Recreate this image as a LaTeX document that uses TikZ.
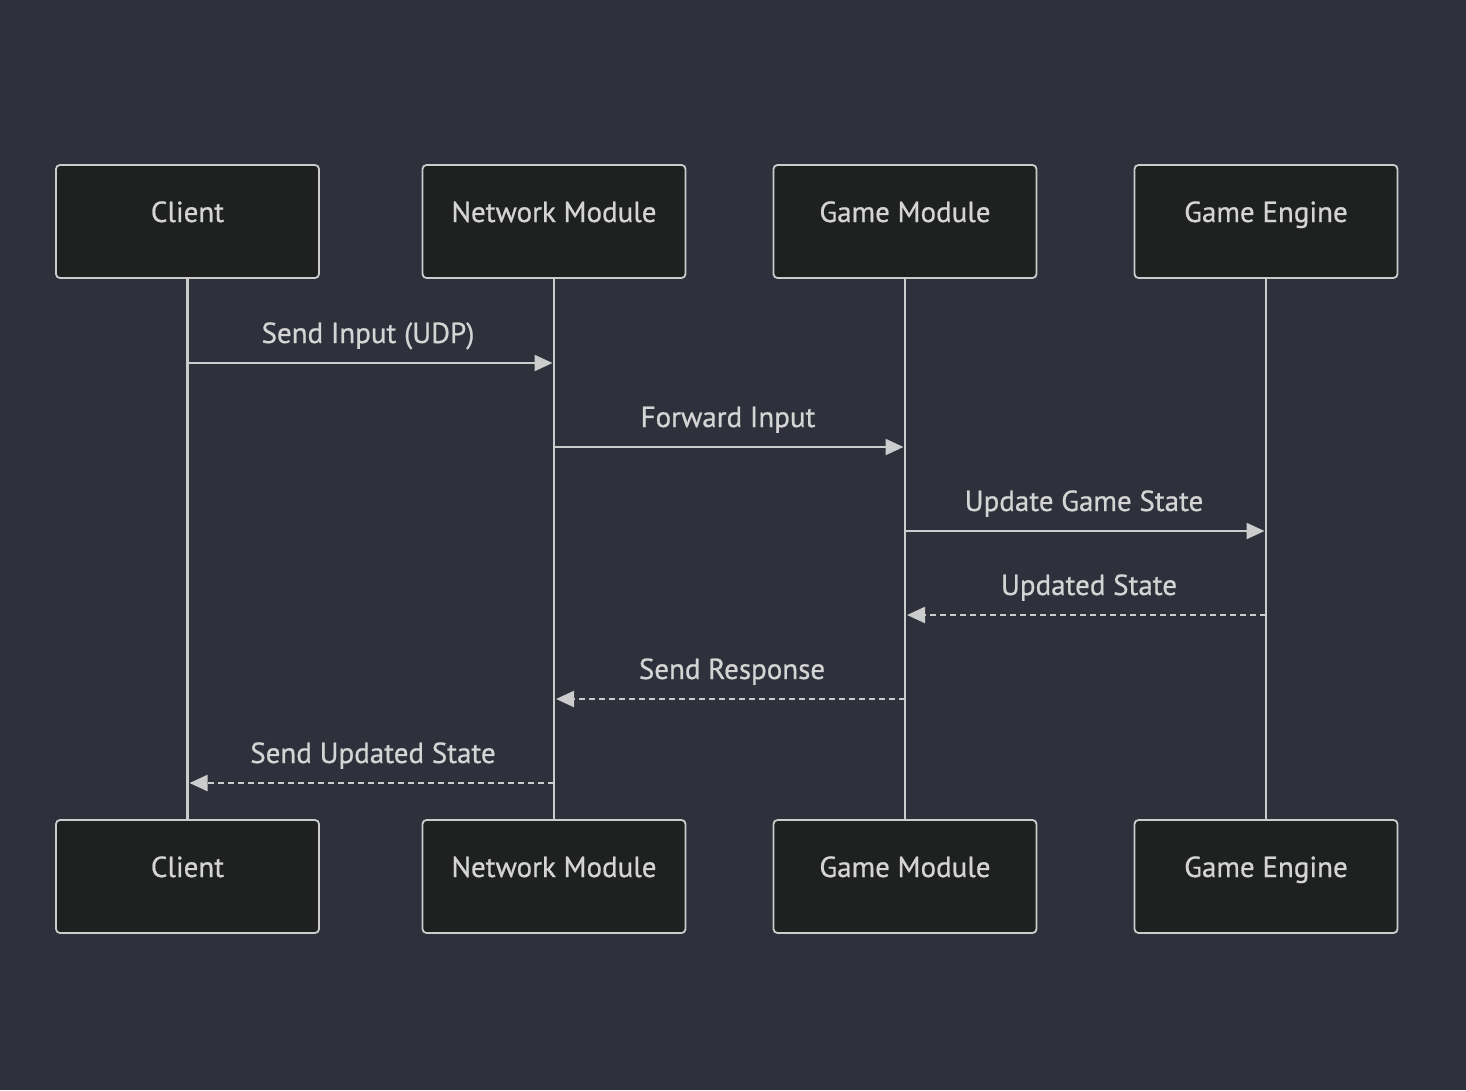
\documentclass[tikz,border=0pt]{standalone}
\usepackage{fontspec}
\setmainfont{PT Sans}
\newfontface\dfont{PT Sans}[FakeBold=0.7]
\usetikzlibrary{arrows.meta}
\definecolor{bgc}{HTML}{2E303B}
\definecolor{boxfill}{HTML}{1F2020}
\definecolor{linec}{HTML}{CCCCCC}
\definecolor{textc}{HTML}{D4D4D4}
\begin{document}
\begin{tikzpicture}[x=1pt,y=-1pt,
  actor/.style={draw=linec, line width=1.8pt, fill=boxfill, rounded corners=4pt,
    minimum width=263pt, minimum height=113pt, inner sep=0pt,
    text height=21pt, text depth=20pt,
    text=textc, font=\dfont\fontsize{29}{33}\selectfont},
  lifeline/.style={draw=linec, line width=2.8pt},
  msg/.style={draw=linec, line width=2.3pt, -{Triangle[length=18pt,width=16pt]}},
  reply/.style={msg, dash pattern=on 6pt off 4pt},
  lbl/.style={text=textc, font=\dfont\fontsize{29}{33}\selectfont, inner sep=0pt, anchor=base}]
\fill[bgc] (0,0) rectangle (1466,1090);
\useasboundingbox (0,0) rectangle (1466,1090);
% actors top
\node[actor] (ct) at (187.5,221.5) {Client};
\node[actor] (nt) at (554,221.5) {Network Module};
\node[actor] (gt) at (905,221.5) {Game Module};
\node[actor] (et) at (1266,221.5) {Game Engine};
% actors bottom
\node[actor] (cb) at (187.5,876.5) {Client};
\node[actor] (nb) at (554,876.5) {Network Module};
\node[actor] (gb) at (905,876.5) {Game Module};
\node[actor] (eb) at (1266,876.5) {Game Engine};
% lifelines
\draw[lifeline] (ct.south) -- (cb.north);
\draw[lifeline] (nt.south) -- (nb.north);
\draw[lifeline] (gt.south) -- (gb.north);
\draw[lifeline] (et.south) -- (eb.north);
% message anchor points
\coordinate (c1) at (187.5,363); \coordinate (n1) at (552.5,363);
\coordinate (n2) at (554,447);  \coordinate (g2) at (903.5,447);
\coordinate (g3) at (905,531);  \coordinate (e3) at (1264.5,531);
\coordinate (e4) at (1266,615); \coordinate (g4) at (907,615);
\coordinate (g5) at (905,699);  \coordinate (n5) at (556,699);
\coordinate (n6) at (554,783);  \coordinate (c6) at (189.5,783);
\draw[msg] (c1) -- (n1);
\node[lbl] (l1) at (368,343) {Send Input (UDP)};
\draw[msg] (n2) -- (g2);
\node[lbl] (l2) at (728,427) {Forward Input};
\draw[msg] (g3) -- (e3);
\node[lbl] (l3) at (1084,511) {Update Game State};
\draw[reply] (e4) -- (g4);
\node[lbl] (l4) at (1089,595) {Updated State};
\draw[reply] (g5) -- (n5);
\node[lbl] (l5) at (732,679) {Send Response};
\draw[reply] (n6) -- (c6);
\node[lbl] (l6) at (373,763) {Send Updated State};
\end{tikzpicture}
\end{document}
